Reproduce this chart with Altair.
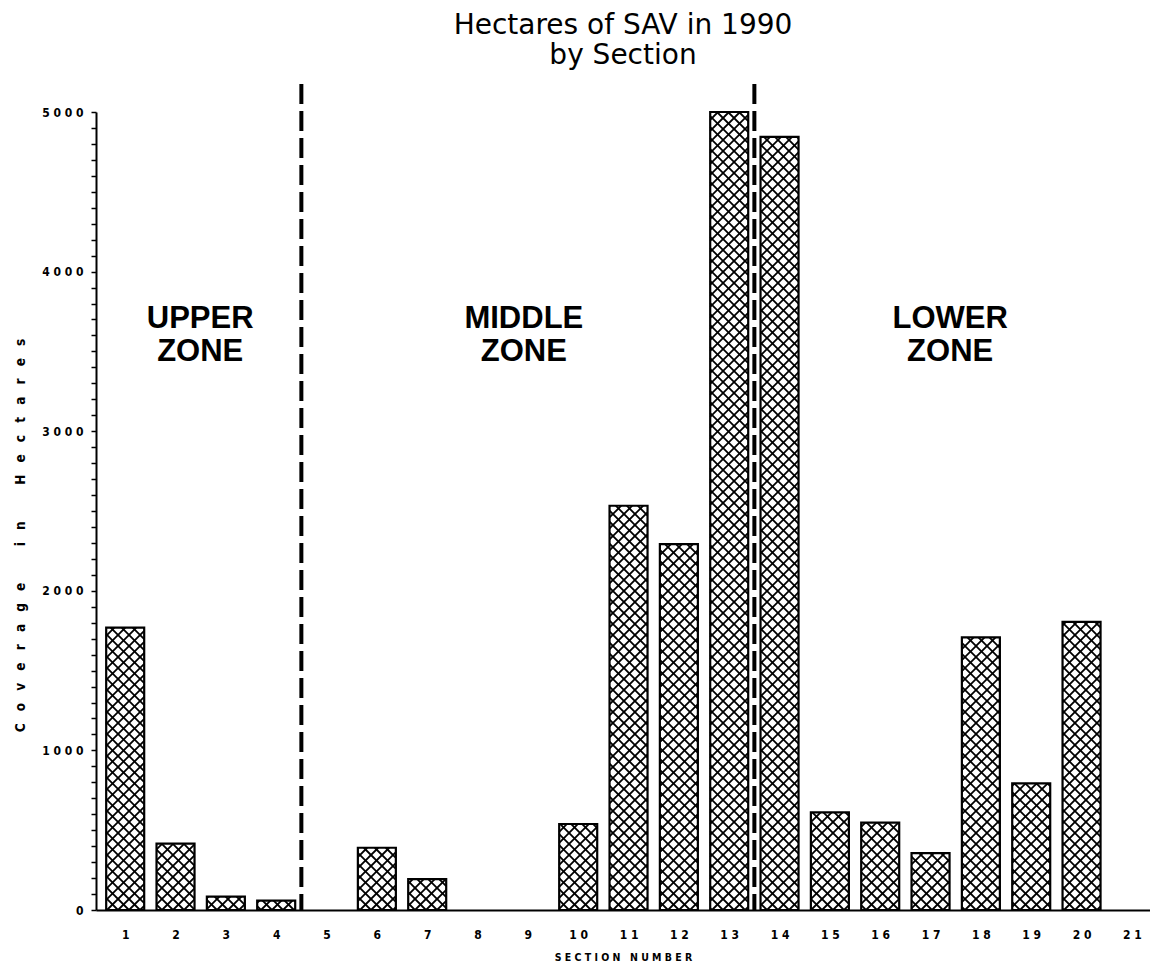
import altair as alt
import pandas as pd

# ---- data ----
sections = list(range(1, 22))
hectares = [1769, 416, 84, 59, 0, 390, 193, 0, 0, 539, 2533, 2293,
            5000, 4844, 612, 548, 356, 1708, 794, 1805, 0]
zone_labels = ["UPPER\nZONE", "MIDDLE\nZONE", "LOWER\nZONE"]
zone_label_x = [2.49, 8.92, 17.39]
zone_label_y = [3700, 3700, 3700]
zone_boundaries = [4.5, 13.5]
y_tick_values = list(range(0, 5001, 100))

# ---- geometry ----
X_MIN, X_MAX = 0.42, 21.36
Y_MAX = 5000
W, H = 1054, 798
PX_X = W / (X_MAX - X_MIN)
PX_Y = H / Y_MAX
HALF = 0.3775          # half bar width in section units
SP = 11.0              # hatch spacing in px

bars = pd.DataFrame({"section": sections, "hectares": hectares})
bars = bars[bars.hectares > 0].reset_index(drop=True)
bars["x0"] = bars.section - HALF
bars["x1"] = bars.section + HALF
bars["y1"] = 0

# crosshatch segments, clipped to each bar (computed in pixel space, given back in data units)
segs = []
for s, v in zip(bars.section, bars.hectares):
    L = (s - HALF - X_MIN) * PX_X
    R = (s + HALF - X_MIN) * PX_X
    T = v * PX_Y
    for slope in (1, -1):
        if slope > 0:
            k0, k1 = int((-R) // SP) - 1, int((T - L) // SP) + 2
        else:
            k0, k1 = int(L // SP) - 1, int((R + T) // SP) + 2
        for k in range(k0, k1):
            c = k * SP
            if slope > 0:
                lo, hi = max(L, -c), min(R, T - c)
            else:
                lo, hi = max(L, c - T), min(R, c)
            if hi - lo <= 0.6:
                continue
            segs.append({
                "x0": lo / PX_X + X_MIN, "x1": hi / PX_X + X_MIN,
                "hectares": (slope * lo + c) / PX_Y, "y1": (slope * hi + c) / PX_Y,
            })
hatch = pd.DataFrame(segs)

xs = alt.Scale(domain=[X_MIN, X_MAX], nice=False, zero=False)
ys = alt.Scale(domain=[0, Y_MAX], nice=False)

LABEL_FONT = "DejaVu Sans Condensed, Liberation Sans Narrow, Liberation Sans"
spaced = "join(split(datum.label, ''), ' ')"

x_axis = alt.Axis(values=sections, format="d", labelExpr=spaced,
                  title="S E C T I O N\u2003N U M B E R",
                  grid=False, ticks=False, domainColor="black",
                  domainWidth=2, labelFont=LABEL_FONT, labelFontWeight="bold",
                  labelFontSize=12, labelColor="black", labelPadding=19,
                  titleFont=LABEL_FONT, titleFontWeight="bold",
                  titleFontSize=10.5, titleColor="black", titlePadding=12)
y_axis = alt.Axis(values=y_tick_values, format="d",
                  labelExpr="datum.value % 1000 == 0 ? " + spaced + " : ''",
                  title="C\u2003o\u2003v\u2003e\u2003r\u2003a\u2003g\u2003e\u2003\u2003\u2003i\u2003n\u2003\u2003\u2003H\u2003e\u2003c\u2003t\u2003a\u2003r\u2003e\u2003s",
                  grid=False, tickColor="black", tickSize=5, tickWidth=1.5,
                  domainColor="black", domainWidth=2,
                  labelFont=LABEL_FONT, labelFontWeight="bold",
                  labelFontSize=12, labelColor="black", labelPadding=8,
                  titleFont=LABEL_FONT, titleFontWeight="bold",
                  titleFontSize=13.5, titleColor="black", titlePadding=14,
                  titleY=423)

X = alt.X("x0:Q", scale=xs, axis=x_axis)
Y = alt.Y("hectares:Q", scale=ys, axis=y_axis)

base_fill = alt.Chart(bars).mark_rect(fill="white", strokeWidth=0).encode(
    x=X, x2="x1:Q", y=Y, y2="y1:Q",
)

hatch_layer = alt.Chart(hatch).mark_rule(color="black", strokeWidth=1.8).encode(
    x=X, x2="x1:Q", y=Y, y2="y1:Q",
)

outline = alt.Chart(bars).mark_rect(fillOpacity=0, stroke="black", strokeWidth=2.2).encode(
    x=X, x2="x1:Q", y=Y, y2="y1:Q",
)

dividers = alt.Chart(pd.DataFrame({"x0": zone_boundaries})).mark_rule(
    color="black", strokeWidth=4, strokeDash=[20, 7]
).encode(
    x=X,
    y=alt.value(-28),
    y2=alt.value(H),
)

zones = alt.Chart(pd.DataFrame({"label": zone_labels, "x0": zone_label_x, "hectares": zone_label_y})).mark_text(
    font="Liberation Sans", fontWeight="bold", fontSize=31, lineHeight=33,
    lineBreak="\n", align="center", baseline="middle", color="black"
).encode(
    x=X, y=Y,
    text="label:N",
)

chart = alt.layer(base_fill, hatch_layer, outline, dividers, zones).properties(
    width=W, height=H,
    background="white",
    title=alt.TitleParams(["Hectares of SAV in 1990", "by Section"],
                          font="DejaVu Sans", fontSize=28, fontWeight="normal",
                          lineHeight=30, color="black", anchor="middle", offset=12),
    padding={"left": 5, "right": 0, "top": 4, "bottom": 0},
).configure_view(stroke="transparent", strokeWidth=0)

chart.save("out.html", embed_options={"renderer": "svg", "actions": False})
